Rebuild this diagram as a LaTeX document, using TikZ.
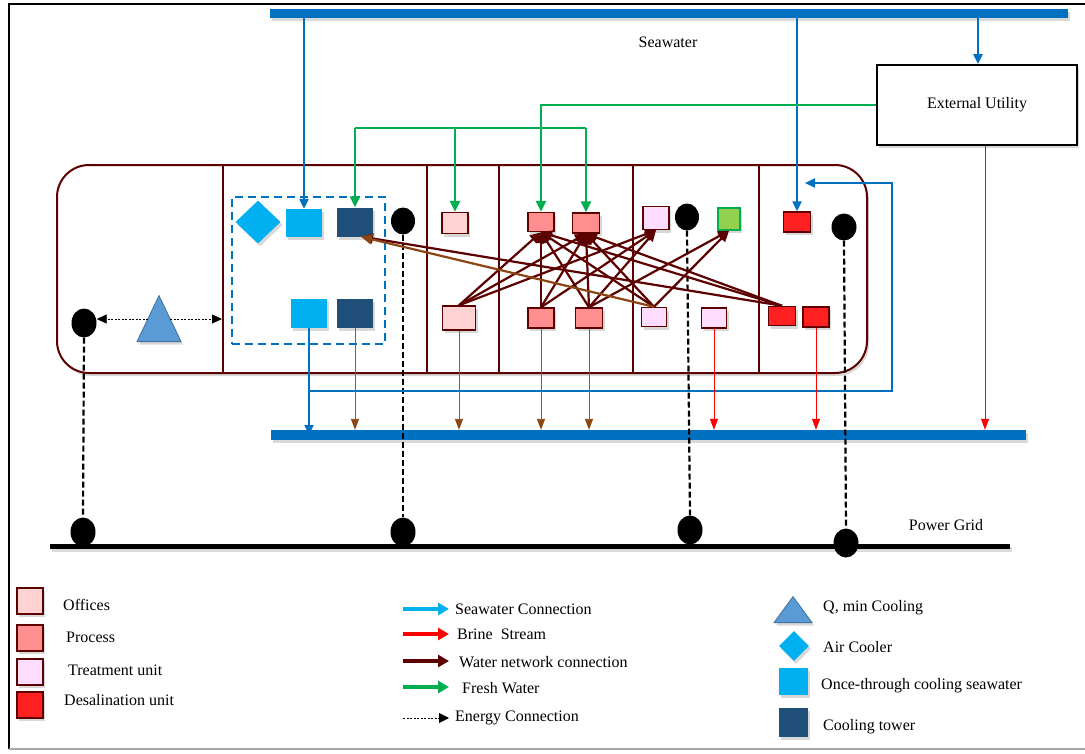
\documentclass[tikz,border=0pt]{standalone}
\usepackage{fontspec}
\setmainfont{Liberation Serif}
\usetikzlibrary{arrows.meta,shapes.geometric,shadows}
\definecolor{dred}{HTML}{5C0000}
\definecolor{officec}{HTML}{FFD3D3}
\definecolor{procc}{HTML}{FF8F8F}
\definecolor{treatc}{HTML}{FFDDFF}
\definecolor{desalc}{HTML}{FF2121}
\definecolor{greenf}{HTML}{92D050}
\definecolor{greenl}{HTML}{00B050}
\definecolor{lblue}{HTML}{00B0F0}
\definecolor{ctblue}{HTML}{1F4E79}
\definecolor{seablue}{HTML}{0070C0}
\definecolor{trifill}{HTML}{5B9BD5}
\definecolor{tribord}{HTML}{41719C}
\definecolor{brownl}{HTML}{A0522D}
\definecolor{brownd}{HTML}{8B4513}
\begin{document}
\begin{tikzpicture}[x=1pt,y=-1pt,font=\fontsize{16}{19}\selectfont,
  shd/.style={drop shadow={opacity=0.3,shadow xshift=2pt,shadow yshift=-3pt}},
  unit/.style={draw=dred,line width=1.4pt,inner sep=0pt,shd},
  office/.style={unit,fill=officec},
  proc/.style={unit,fill=procc},
  treat/.style={unit,fill=treatc},
  desal/.style={unit,fill=desalc},
  fwbox/.style={draw=greenl,line width=1.4pt,fill=greenf,inner sep=0pt,shd},
  once/.style={fill=lblue,inner sep=0pt,shd},
  ctower/.style={fill=ctblue,inner sep=0pt,shd},
  dot/.style={ellipse,fill=black,minimum width=25pt,minimum height=29pt,inner sep=0pt},
  bar/.style={fill=seablue,inner sep=0pt,shd},
  seaw/.style={seablue,line width=2.2pt,-{Triangle[length=10pt,width=9pt]}},
  fresh/.style={greenl,line width=2.5pt,-{Triangle[length=11pt,width=10pt]}},
  net/.style={dred,line width=2.2pt,-{Triangle[length=11pt,width=10pt]}},
  brnet/.style={brownd,line width=2.2pt,-{Triangle[length=11pt,width=10pt]}},
  dropb/.style={brownl,line width=0.9pt,-{Triangle[length=11pt,width=8pt,color=brownd]}},
  brine/.style={red,line width=0.8pt,-{Triangle[length=11pt,width=8pt]}},
  energy/.style={black,line width=2.2pt,dash pattern=on 6pt off 3pt},
  ener/.style={black,line width=0.8pt,dash pattern=on 2pt off 1.5pt,-{Triangle[length=10pt,width=9pt]}},
  lab/.style={anchor=west,inner sep=0pt}
]
\useasboundingbox (0,0) rectangle (1085,753);
% outer frame
\draw[black,line width=2.5pt] (9,749) -- (9,4) -- (1085,4);
\draw[gray!70,line width=1.5pt] (9,749) -- (1085,749);

% plant block
\node[draw=dred,fill=white,line width=2pt,rounded corners=32pt,minimum width=810pt,minimum height=208pt,inner sep=0pt,shd] (plant) at (462,269) {};
\foreach \xx in {223,427,499,633,759}
  \draw[dred,line width=2pt] (\xx,165) -- (\xx,373);

% bars
\node[bar,minimum width=798pt,minimum height=9pt] (sea) at (669,13) {};
\node[bar,minimum width=755pt,minimum height=10pt] (bar2) at (648.5,435) {};
\node[fill=black,inner sep=0pt,minimum width=960pt,minimum height=5pt,shd] (grid) at (530,546) {};
\node at (668,42) {Seawater};
\node at (946,525) {Power Grid};

% external utility
\node[draw=black,fill=white,line width=1.8pt,minimum width=200pt,minimum height=80pt,inner sep=0pt,shd,font=\fontsize{16}{18}\selectfont] (eu) at (977,105) {External Utility};

% cooling area
\node[draw=seablue,line width=2.6pt,dash pattern=on 8pt off 5pt,minimum width=153pt,minimum height=147pt,inner sep=0pt] (coolbox) at (308.5,270.5) {};
\node[diamond,fill=lblue,minimum width=45pt,minimum height=43pt,inner sep=0pt,shd] (ac) at (258,222) {};
\node[once,minimum width=36pt,minimum height=28pt] (ps1) at (304,223) {};
\node[ctower,minimum width=36pt,minimum height=29pt] (ct1) at (355,222) {};
\node[once,minimum width=36pt,minimum height=29pt] (ps2) at (309,313) {};
\node[ctower,minimum width=36pt,minimum height=29pt] (ct2) at (355,313) {};

% triangle Q min
\node[isosceles triangle,shape border rotate=90,isosceles triangle stretches,fill=trifill,draw=tribord,line width=0.8pt,minimum width=44pt,minimum height=46pt,inner sep=0pt,anchor=lower side,shd] (tri) at (159,342) {};

% units
\node[office,minimum width=26pt,minimum height=21pt] (ot) at (455,223) {};
\node[proc,minimum width=26pt,minimum height=19pt] (pt1) at (541,222) {};
\node[proc,minimum width=27pt,minimum height=20pt] (pt2) at (586,223) {};
\node[treat,minimum width=26pt,minimum height=23pt] (tt) at (656,218) {};
\node[fwbox,minimum width=22pt,minimum height=22pt] (gr) at (729,219) {};
\node[desal,minimum width=27pt,minimum height=20pt] (dt) at (797,222) {};
\node[office,minimum width=33pt,minimum height=24pt] (ob) at (459,318) {};
\node[proc,minimum width=26pt,minimum height=20pt] (pb1) at (541,318) {};
\node[proc,minimum width=27pt,minimum height=20pt] (pb2) at (589,318) {};
\node[treat,minimum width=25pt,minimum height=19pt] (tb1) at (654,317) {};
\node[treat,minimum width=25pt,minimum height=20pt] (tb2) at (714,318) {};
\node[desal,minimum width=27pt,minimum height=19pt] (db1) at (782,316) {};
\node[desal,minimum width=26pt,minimum height=20pt] (db2) at (816,317) {};

% energy dots
\node[dot] (d0) at (84,323) {};
\node[dot,minimum height=27pt,minimum width=24pt] (d1) at (403,221) {};
\node[dot,minimum height=27pt,minimum width=24pt] (d2) at (687,217) {};
\node[dot,minimum height=27pt,minimum width=25pt] (d3) at (844,227) {};
\node[dot] (g0) at (83,532) {};
\node[dot] (g1) at (403,532) {};
\node[dot] (g2) at (690,530) {};
\node[dot] (g3) at (846,543) {};
\draw[energy] (d0.south) -- (g0.north);
\draw[energy] (d1.south) -- (g1.north);
\draw[energy] (d2.south) -- (g2.north);
\draw[energy] (d3.south) -- (g3.north);
\coordinate (triL) at (148,319);
\coordinate (triR) at (170,319);
\coordinate (divA) at (222,319);
\draw[ener] (triL) -- (d0.east |- triL);
\draw[ener] (triR) -- (divA);

% seawater connections
\draw[seaw] (ps1.north |- sea.south) -- (ps1.north);
\draw[seaw] (dt.north |- sea.south) -- (dt.north);
\draw[seaw] ([xshift=1pt]eu.north |- sea.south) -- ([xshift=1pt]eu.north);
\coordinate (loopA) at (892,391);
\coordinate (loopB) at (892,183);
\coordinate (loopE) at (805,183);
\draw[seaw] (ps2.south) -- (ps2.south |- bar2.center);
\draw[seaw] (ps2.south |- loopA) -- (loopA) -- (loopB) -- (loopE);

% fresh water
\draw[fresh] (eu.west) -| (pt1.north);
\coordinate (gL) at (355,128);
\coordinate (gR) at (586,128);
\draw[greenl,line width=2.5pt] (gL) -- (gR);
\draw[fresh] (gL) -- (ct1.north);
\draw[fresh] (gR) -- (pt2.north);
\draw[fresh] (ot.north |- gL) -- (ot.north);

% water network
\foreach \s/\t in {ob/pt1,ob/pt2,ob/tt,pb1/pt1,pb1/pt2,pb1/tt,pb2/pt1,pb2/pt2,pb2/tt,pb2/gr,tb1/pt1,tb1/pt2,tb1/gr,db1/pt1,db1/pt2}
  \draw[net] (\s.north) -- (\t.south);
\draw[net] (db1.north) -- ([xshift=7pt]ct1.south);
\draw[brnet] (tb1.north) -- ([xshift=6pt]ct1.south);

% discharges
\foreach \s in {ct2,ob,pb1,pb2}
  \draw[dropb] (\s.south) -- (\s.south |- bar2.north);
\foreach \s in {tb2,db2}
  \draw[brine] (\s.south) -- (\s.south |- bar2.north);
\draw[brine] ([xshift=8pt]eu.south) -- ([xshift=8pt]eu.south |- bar2.north);

% legend left
\node[office,minimum width=26pt,minimum height=26pt] (lo) at (30,601) {};
\node[proc,minimum width=26pt,minimum height=26pt] (lp) at (30,638) {};
\node[treat,minimum width=26pt,minimum height=26pt] (lt) at (30,672) {};
\node[desal,minimum width=26pt,minimum height=26pt] (ld) at (30,705) {};
\node[lab] at (63,605) {Offices};
\node[lab] at (66,637) {Process};
\node[lab] at (68,670) {Treatment\ unit};
\node[lab] at (64,700) {Desalination\ unit};

% legend middle
\coordinate (a1) at (403,609); \coordinate (b1) at (449,609);
\coordinate (a2) at (403,634); \coordinate (b2) at (449,634);
\coordinate (a3) at (403,661); \coordinate (b3) at (449,661);
\coordinate (a4) at (403,687); \coordinate (b4) at (449,687);
\coordinate (a5) at (403,718); \coordinate (b5) at (449,718);
\draw[lblue,line width=3.5pt,-{Triangle[length=11pt,width=12pt]}] (a1) -- (b1);
\draw[red,line width=3.5pt,-{Triangle[length=11pt,width=12pt]}] (a2) -- (b2);
\draw[dred,line width=3.5pt,-{Triangle[length=11pt,width=12pt]}] (a3) -- (b3);
\draw[greenl,line width=3.5pt,-{Triangle[length=11pt,width=12pt]}] (a4) -- (b4);
\draw[black,line width=0.8pt,dash pattern=on 2pt off 1.5pt,-{Triangle[length=10pt,width=10pt]}] (a5) -- (b5);
\node[lab] at (455,609) {Seawater Connection};
\node[lab] at (457,634) {Brine\ \ Stream};
\node[lab] at (459,662) {Water network connection};
\node[lab] at (462,688) {Fresh Water};
\node[lab] at (455,718) {Energy Connection};

% legend right
\node[isosceles triangle,shape border rotate=90,isosceles triangle stretches,fill=trifill,draw=tribord,line width=0.8pt,minimum width=38pt,minimum height=26pt,inner sep=0pt,anchor=lower side,shd] (ltri) at (793,623) {};
\node[diamond,fill=lblue,minimum width=30pt,minimum height=30pt,inner sep=0pt,shd] (lac) at (794,646) {};
\node[once,minimum width=29pt,minimum height=27pt] (lps) at (793,681) {};
\node[ctower,minimum width=29pt,minimum height=29pt] (lct) at (793,722) {};
\node[lab] at (823,608) {Q, min\ Cooling};
\node[lab] at (823,647) {Air\ Cooler};
\node[lab] at (821,686) {Once-through cooling seawater};
\node[lab] at (823,727) {Cooling tower};
\end{tikzpicture}
\end{document}
